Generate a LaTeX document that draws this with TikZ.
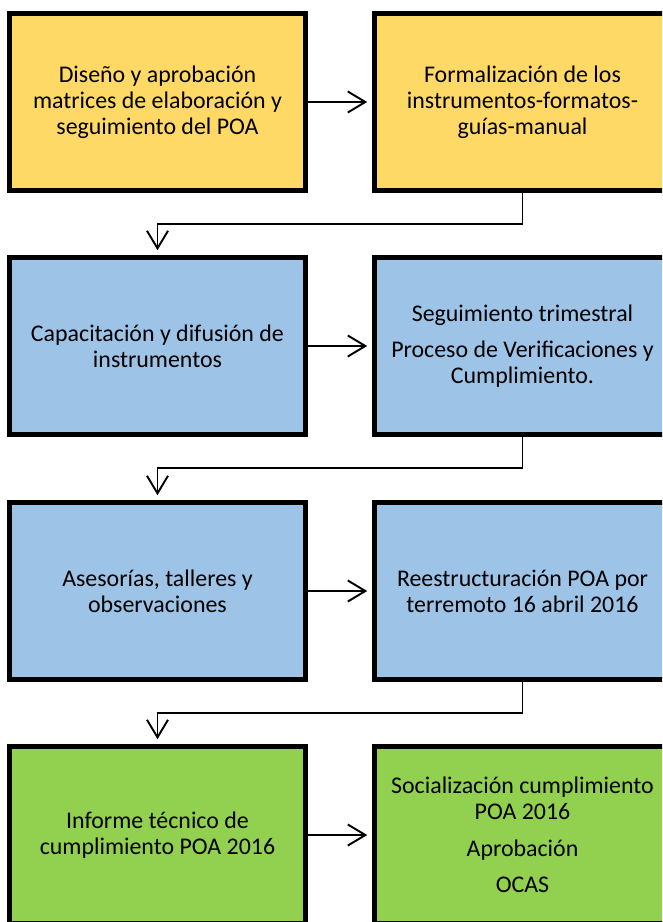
\documentclass[tikz,border=0pt]{standalone}
\usepackage{fontspec}
\setmainfont{Carlito}
\usetikzlibrary{arrows.meta}

\definecolor{amarillo}{HTML}{FFD966}
\definecolor{celeste}{HTML}{9DC3E6}
\definecolor{verde}{HTML}{92D050}

\tikzset{
  paso/.style={draw=black, line width=2.7pt, minimum width=5.92cm, minimum height=3.54cm,
    align=center, font=\fontsize{13.6}{14.8}\selectfont},
  flecha/.style={line width=1.1pt, -{Straight Barb[length=10pt,width=12pt,line width=1.1pt]},
    shorten >=2.8pt}
}

\begin{document}
\begin{tikzpicture}[x=0.02cm,y=-0.02cm]
      \useasboundingbox (0,0) rectangle (662,922);
      \clip (0,0) rectangle (662,922);

      % Fila 1: diseno
      \node[paso, fill=amarillo] (disenio) at (157.5,102) {Diseño y aprobación\\matrices de elaboración y\\seguimiento del POA};
      \node[paso, fill=amarillo] (formal) at (522.5,102) {Formalización de los\\instrumentos-formatos-\\guías-manual};

      % Fila 2: capacitacion y seguimiento
      \node[paso, fill=celeste] (capacit) at (157.5,346) {Capacitación y difusión de\\instrumentos};
      \node[paso, fill=celeste] (seguim) at (522.5,346) {Seguimiento trimestral\\[6pt]Proceso de Verificaciones y\\Cumplimiento.};

      % Fila 3: asesorias y reestructuracion
      \node[paso, fill=celeste] (asesor) at (157.5,591) {Asesorías, talleres y\\observaciones};
      \node[paso, fill=celeste] (reestr) at (522.5,591) {Reestructuración POA por\\terremoto 16 abril 2016};

      % Fila 4: informe y socializacion
      \node[paso, fill=verde] (informe) at (157.5,835) {Informe técnico de\\cumplimiento POA 2016};
      \node[paso, fill=verde] (social) at (522.5,835) {Socialización cumplimiento\\POA 2016\\[6pt]Aprobación\\[6pt]OCAS};

      % Flechas
      \draw[flecha] (disenio) -- (formal);
      \draw[flecha] (formal.south) -- ++(0,31) -| (capacit.north);
      \draw[flecha] (capacit) -- (seguim);
      \draw[flecha] (seguim.south) -- ++(0,31) -| (asesor.north);
      \draw[flecha] (asesor) -- (reestr);
      \draw[flecha] (reestr.south) -- ++(0,31) -| (informe.north);
      \draw[flecha] (informe) -- (social);
    \end{tikzpicture}
\end{document}
